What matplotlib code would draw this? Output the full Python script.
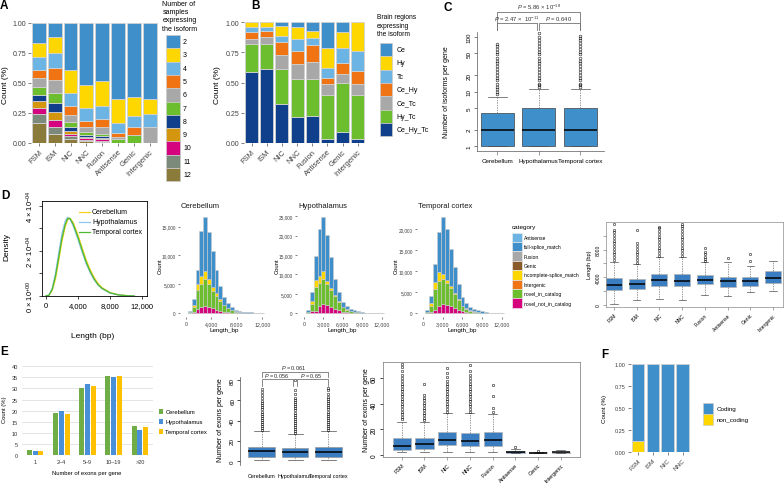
import matplotlib
matplotlib.use("Agg")
import matplotlib.pyplot as plt
import matplotlib.transforms as mtrans
from matplotlib.patches import Rectangle
from matplotlib.lines import Line2D
import numpy as np

plt.rcParams["font.family"] = ["Liberation Sans", "DejaVu Sans"]
plt.rcParams["mathtext.fontset"] = "custom"
plt.rcParams["mathtext.rm"] = "Liberation Sans"
plt.rcParams["mathtext.it"] = "Liberation Sans:italic"
plt.rcParams["axes.linewidth"] = 0.5

# ---------------- data ----------------
types = ["FSM", "ISM", "NIC", "NNC", "Fusion", "Antisense", "Genic", "Intergenic"]

# A: share of isoforms by number of samples expressing them
a_levels = ["2", "3", "4", "5", "6", "7", "8", "9", "10", "11", "12"]
a_colors = ["#3F8FCB", "#FFD700", "#6CB4E4", "#F07314", "#A8A8A8", "#6DBE2E",
            "#103F8C", "#D4960F", "#D6037E", "#7B8A7B", "#8B7B3A"]
a_n2 = [0.167, 0.114, 0.389, 0.517, 0.481, 0.633, 0.619, 0.633]
a_n3 = [0.119, 0.136, 0.194, 0.194, 0.208, 0.203, 0.159, 0.125]
a_n4 = [0.103, 0.125, 0.106, 0.103, 0.111, 0.081, 0.091, 0.111]
a_n5 = [0.072, 0.100, 0.075, 0.055, 0.069, 0.036, 0.062, 0.000]
a_n6 = [0.075, 0.108, 0.064, 0.042, 0.056, 0.014, 0.000, 0.131]
a_n7 = [0.061, 0.084, 0.041, 0.020, 0.019, 0.033, 0.069, 0.000]
a_n8 = [0.056, 0.072, 0.028, 0.016, 0.012, 0.000, 0.000, 0.000]
a_n9 = [0.058, 0.067, 0.028, 0.014, 0.011, 0.000, 0.000, 0.000]
a_n10 = [0.047, 0.063, 0.019, 0.014, 0.014, 0.000, 0.000, 0.000]
a_n11 = [0.075, 0.056, 0.023, 0.011, 0.008, 0.000, 0.000, 0.000]
a_n12 = [0.167, 0.075, 0.033, 0.014, 0.011, 0.000, 0.000, 0.000]
a_series = [a_n2, a_n3, a_n4, a_n5, a_n6, a_n7, a_n8, a_n9, a_n10, a_n11, a_n12]

# B: share by brain regions expressing the isoform
b_regions = ["Ce", "Hy", "Tc", "Ce_Hy", "Ce_Tc", "Hy_Tc", "Ce_Hy_Tc"]
b_colors = ["#3F8FCB", "#FFD700", "#6CB4E4", "#F07314", "#A8A8A8", "#6DBE2E", "#103F8C"]
b_ce = [0.000, 0.000, 0.028, 0.042, 0.075, 0.217, 0.083, 0.000]
b_hy = [0.042, 0.042, 0.083, 0.097, 0.058, 0.164, 0.133, 0.236]
b_tc = [0.036, 0.028, 0.056, 0.097, 0.056, 0.078, 0.122, 0.167]
b_ce_hy = [0.061, 0.050, 0.106, 0.111, 0.139, 0.056, 0.092, 0.111]
b_ce_tc = [0.042, 0.056, 0.111, 0.119, 0.139, 0.089, 0.069, 0.089]
b_hy_tc = [0.231, 0.208, 0.289, 0.317, 0.306, 0.364, 0.411, 0.364]
b_ce_hy_tc = [0.588, 0.616, 0.327, 0.217, 0.227, 0.032, 0.090, 0.033]
b_series = [b_ce, b_hy, b_tc, b_ce_hy, b_ce_tc, b_hy_tc, b_ce_hy_tc]

# C: isoforms per gene
tissues = ["Cerebellum", "Hypothalamus", "Temporal cortex"]
c_q1 = [1, 1, 1]
c_med = [2, 2, 2]
c_q3 = [4, 5, 5]
c_lo = [1, 1, 1]
c_hi = [8, 11, 11]
c_fl_ce = [9, 10, 11, 12, 14, 16, 18, 20, 23, 26, 29, 33, 37, 42, 48, 54, 61, 69, 75]
c_fl_hy = [12, 13, 14, 16, 18, 20, 23, 26, 29, 33, 37, 42, 48, 54, 61, 69, 78, 88, 100, 118]
c_fl_tc = [12, 13, 14, 16, 18, 20, 23, 26, 29, 33, 37, 42, 48, 54, 61, 69, 78, 88, 98, 105]

# D: density of transcript length (values in 1e-4)
d_len = [0, 400, 800, 1200, 1600, 2000, 2400, 2700, 3000, 3400, 4000, 4500, 5000,
         5500, 6000, 6500, 7000, 8000, 9000, 10000, 11000]
d_dens_ce = [0, 0.03, 0.25, 0.75, 1.55, 2.40, 3.05, 3.36, 3.44, 3.25, 2.70, 2.15, 1.62,
             1.18, 0.83, 0.56, 0.37, 0.15, 0.06, 0.02, 0]
d_dens_hy = [0, 0.05, 0.35, 1.00, 1.90, 2.75, 3.30, 3.48, 3.40, 3.10, 2.50, 1.95, 1.45,
             1.05, 0.72, 0.48, 0.32, 0.13, 0.05, 0.015, 0]
d_dens_tc = [0, 0.04, 0.30, 0.88, 1.70, 2.55, 3.15, 3.42, 3.43, 3.18, 2.60, 2.05, 1.52,
             1.10, 0.76, 0.50, 0.34, 0.14, 0.05, 0.015, 0]
dens_colors = ["#F5D31A", "#8EC5F0", "#4DB82F"]

# D: stacked length histograms per tissue
h_categories = ["Antisense", "full-splice_match", "Fusion", "Genic",
                "incomplete-splice_match", "Intergenic", "novel_in_catalog", "novel_not_in_catalog"]
h_colors = ["#6CB4E4", "#3F8FCB", "#A8A8A8", "#8B5A2B", "#FFD700", "#F07314", "#6DBE2E", "#D6037E"]
h_bin_left = [300, 900, 1500, 2100, 2700, 3300, 3900, 4500, 5100, 5700,
              6300, 6900, 7500, 8100, 8700, 9300, 9900, 10500, 11100, 11700]
h_width = 600
cb_fsm = [200, 1040, 2480, 7890, 9200, 8050, 6335, 4035, 2250, 1265, 800, 480, 300, 220, 150, 110, 80, 60, 40, 30]
cb_ism = [0, 400, 980, 1330, 1440, 870, 580, 460, 230, 115, 60, 40, 0, 0, 0, 0, 0, 0, 0, 0]
cb_nic = [200, 750, 3350, 4040, 4730, 4040, 3060, 2420, 1730, 1100, 700, 420, 230, 130, 80, 60, 40, 30, 20, 10]
cb_nnc = [0, 290, 750, 1040, 1210, 1040, 865, 635, 460, 290, 170, 100, 50, 0, 0, 0, 0, 0, 0, 0]
cb_fus = [0, 0, 0, 0, 0, 0, 0, 0, 0, 0, 30, 40, 40, 40, 40, 40, 30, 30, 30, 30]
hy_fsm = [400, 2150, 6270, 12030, 13750, 11760, 7990, 4050, 2310, 1180, 720, 480, 330, 220, 160, 90, 60, 50, 30, 20]
hy_ism = [0, 860, 1890, 1900, 2150, 800, 600, 400, 200, 100, 50, 0, 0, 0, 0, 0, 0, 0, 0, 0]
hy_nic = [300, 1720, 6010, 6000, 6440, 5410, 4290, 3200, 2100, 1100, 700, 420, 280, 170, 100, 60, 40, 30, 20, 10]
hy_nnc = [150, 690, 690, 1800, 2400, 2150, 1720, 1200, 800, 450, 250, 130, 80, 40, 0, 0, 0, 0, 0, 0]
hy_fus = [0, 0, 0, 0, 0, 0, 0, 0, 0, 0, 40, 50, 50, 50, 50, 50, 40, 40, 40, 40]
tc_fsm = [400, 1810, 4370, 9530, 13500, 12080, 8720, 6050, 3680, 1960, 1240, 780, 530, 360, 260, 160, 100, 65, 40, 25]
tc_ism = [0, 560, 1590, 1980, 1190, 800, 600, 400, 200, 100, 60, 0, 0, 0, 0, 0, 0, 0, 0, 0]
tc_nic = [300, 1590, 5000, 5950, 5950, 5200, 4300, 3300, 2300, 1300, 800, 500, 330, 220, 140, 90, 50, 35, 20, 15]
tc_nnc = [90, 240, 790, 1830, 2220, 2000, 1700, 1200, 800, 450, 280, 150, 90, 50, 0, 0, 0, 0, 0, 0]
tc_fus = [0, 0, 0, 0, 0, 0, 0, 0, 0, 0, 40, 50, 50, 50, 50, 50, 40, 40, 40, 40]

# D right: length by structural category
dl_q1 = [2130, 2280, 2670, 2670, 2960, 2520, 2760, 3150]
dl_med = [2910, 2960, 3540, 3440, 3640, 3390, 3390, 3830]
dl_q3 = [3880, 3730, 4460, 4410, 4320, 3980, 4020, 4950]
dl_lo = [50, 680, 820, 680, 1400, 1310, 1790, 1940]
dl_hi = [6250, 5870, 6880, 6880, 6160, 6250, 5670, 6300]
dl_fliers = [
    [6500, 6900, 7300, 7700, 8100, 8500, 8900, 9300, 9700, 10100, 10500, 10900, 11730],
    [6100, 6500, 6900, 7300, 7700, 8100, 8600, 9000, 10860],
    [7100, 7500, 7900, 8300, 8700, 9100, 9500, 9900, 10300, 10700, 11100, 11350],
    [7100, 7500, 7900, 8300, 8700, 9100, 9500, 9900, 10300, 10700, 11100, 11500, 11730],
    [6400, 6700, 7000, 7300, 7700, 8190],
    [6840],
    [6400, 7370],
    [],
]

# E left: exons per gene distribution (%)
e_groups = ["1", "2\u20134", "5\u20139", "10\u201319", ">20"]
e_ce = [2.1, 18.9, 30.2, 35.5, 12.9]
e_hy = [1.8, 19.7, 31.9, 35.2, 11.1]
e_tc = [1.65, 18.6, 31.0, 35.6, 12.6]
e_colors = ["#70AD47", "#4A90D9", "#FFC000"]

# E middle: exons per gene by tissue
em_q1 = [4.5, 4.5, 4.5]
em_med = [10.0, 8.7, 8.7]
em_q3 = [14.5, 13.5, 14.5]
em_lo = [1.3, 1.3, 1.3]
em_hi = [29.7, 27.0, 29.7]
em_fl_ce = [31, 33, 35, 37, 39, 41, 43, 45, 47, 49, 51, 53, 55, 57, 59, 62, 65, 68, 71.6]
em_fl_hy = [28, 30, 32, 34, 36, 38, 40, 42, 44, 46, 48, 50, 52, 54, 56, 58, 60, 62, 66, 70, 80]
em_fl_tc = [31, 33, 35, 37, 39, 41, 43, 45, 47, 49, 51, 53, 55, 57, 59, 61, 63, 66, 70, 72]

# E right: exons per gene by structural category
er_q1 = [3.7, 4.5, 7.9, 7.1, 6.6, 1.3, 1.0, 1.3]
er_med = [7.1, 8.4, 11.8, 11.0, 11.8, 1.9, 1.0, 2.0]
er_q3 = [13.1, 13.1, 17.6, 16.8, 17.6, 3.1, 2.0, 2.5]
er_lo = [1.9, 1.9, 1.9, 1.9, 1.9, 1.0, 1.0, 1.0]
er_hi = [26.0, 25.7, 32.6, 32.6, 32.0, 4.5, 2.0, 4.0]
er_fliers = [
    [28, 30, 32, 34, 36, 38, 40, 42, 44, 46, 48, 50, 52, 54, 56, 58, 60, 63, 66, 69, 71],
    [27, 29, 31, 33, 35, 37, 39, 41, 43, 45, 47, 55.7],
    [34, 36, 38, 40, 42, 44, 46, 48, 50, 52, 54, 56, 58, 61, 64, 68],
    [34, 36, 38, 40, 42, 44, 46, 48, 50, 52, 54, 56, 58, 60, 63, 66, 70.6],
    [34, 36.5, 46, 55],
    [5.8],
    [3],
    [],
]

# F: coding potential
f_types = ["FSM", "ISM", "NIC", "NNC"]
f_noncoding = [0.125, 0.0, 0.0, 0.0]
f_coding = [0.875, 1.0, 1.0, 1.0]
f_labels = ["Coding", "non_coding"]
f_colors = ["#3F8FCB", "#FFD700"]

# ---------------- figure helpers ----------------
W, H = 784, 485
fig = plt.figure(figsize=(W / 100, H / 100), dpi=100)
PX = mtrans.Affine2D().scale(1 / W, -1 / H).translate(0, 1) + fig.transFigure


def add_ax(x0, y0, x1, y1):
    return fig.add_axes([x0 / W, 1 - y1 / H, (x1 - x0) / W, (y1 - y0) / H])


def text(x, y, s, **kw):
    kw.setdefault("ha", "center")
    kw.setdefault("va", "center")
    fig.text(x, y, s, transform=PX, **kw)


def swatch(x, y, w, h, color, edge="0.8"):
    fig.add_artist(Rectangle((x, y), w, h, transform=PX, facecolor=color,
                             edgecolor=edge, linewidth=0.5))


def gg(ax, size):
    for sp in ax.spines.values():
        sp.set_visible(False)
    ax.tick_params(length=2, width=0.5, color="0.3", labelsize=size,
                   labelcolor="0.25", pad=1.5)


def box_stats(q1, med, q3, lo, hi, fliers):
    return [dict(q1=a, med=b, q3=c, whislo=d, whishi=e, fliers=f)
            for a, b, c, d, e, f in zip(q1, med, q3, lo, hi, fliers)]


def draw_box(ax, stats, width, cap, fill, edge, msize=1.8):
    ax.bxp(stats, positions=list(range(1, len(stats) + 1)), widths=width, capwidths=cap,
           patch_artist=True, manage_ticks=False,
           boxprops=dict(facecolor=fill, edgecolor=edge, linewidth=0.5),
           medianprops=dict(color="black", linewidth=1.1),
           whiskerprops=dict(color="0.45", linewidth=0.5, linestyle=(0, (2, 1.5))),
           capprops=dict(color="0.3", linewidth=0.5),
           flierprops=dict(marker="o", markersize=msize, markerfacecolor="none",
                           markeredgecolor="black", markeredgewidth=0.35))


def stacked(ax, x, series, colors, width, edge="0.82", lw=0.6):
    base = np.zeros(len(x))
    for vals, col in zip(series, colors):
        vals = np.array(vals, dtype=float)
        edges = [edge if v > 0 else "none" for v in vals]
        ax.bar(x, vals, width, bottom=base, color=col, edgecolor=edges, linewidth=lw,
               align="center" if width < 5 else "edge")
        base = base + vals


# ---------------- A ----------------
ax = add_ax(31, 24, 157.5, 144)
xa = np.arange(len(types))
stacked(ax, xa, a_series[::-1], a_colors[::-1], 0.875)
ax.set_xlim(-0.5, 7.5)
ax.set_ylim(0, 1)
gg(ax, 5)
ax.set_yticks([0, 0.25, 0.5, 0.75, 1.0], ["0.00", "0.25", "0.50", "0.75", "1.00"])
ax.set_xticks(xa, types, rotation=45, ha="right", rotation_mode="anchor", fontsize=5.5)
text(5.5, 85, "Count (%)", rotation=90, fontsize=6)
text(162.5, 1, "Number of\nsamples\nexpressing\nthe isoform", ha="left", va="top",
     fontsize=5, linespacing=1.25)
for i, (lab, col) in enumerate(zip(a_levels, a_colors)):
    swatch(165.7, 36 + 13.3 * i, 14, 13.3, col)
    text(183, 42.6 + 13.3 * i, lab, ha="left", fontsize=5)

# ---------------- B ----------------
ax = add_ax(244, 23.3, 365.3, 144)
stacked(ax, xa, b_series[::-1], b_colors[::-1], 0.85)
ax.set_xlim(-0.5, 7.5)
ax.set_ylim(0, 1)
gg(ax, 5)
ax.set_yticks([0, 0.25, 0.5, 0.75, 1.0], ["0.00", "0.25", "0.50", "0.75", "1.00"])
ax.set_xticks(xa, types, rotation=45, ha="right", rotation_mode="anchor", fontsize=5.5)
text(218, 85, "Count (%)", rotation=90, fontsize=6)
text(377, 14, "Brain regions\nexpressing\nthe isoform", ha="left", va="top",
     fontsize=4.8, linespacing=1.3)
for i, (lab, col) in enumerate(zip(b_regions, b_colors)):
    swatch(380, 44 + 13.33 * i, 12.3, 13.33, col)
    text(396.7, 50.6 + 13.33 * i, lab, ha="left", fontsize=5)

# ---------------- C ----------------
ax = add_ax(476.5, 33, 604, 152)
ax.set_yscale("log")
draw_box(ax, box_stats(c_q1, c_med, c_q3, c_lo, c_hi, [c_fl_ce, c_fl_hy, c_fl_tc]),
         0.8, 0.45, "#3F8FCB", "0.25", msize=2.0)
ax.set_xlim(0.5, 3.57)
ax.set_ylim(0.81, 124)
ax.yaxis.set_minor_locator(matplotlib.ticker.NullLocator())
ax.set_yticks([1, 2, 5, 10, 20, 50, 100], ["1", "2", "5", "10", "20", "50", "100"],
              rotation=90, va="center")
ax.set_xticks([1, 2, 3], tissues)
ax.spines[["top", "right"]].set_visible(False)
ax.spines["left"].set_color("0.35")
ax.spines["bottom"].set_color("0.35")
ax.tick_params(axis="y", length=2.5, width=0.5, labelsize=4.5, pad=1, color="0.3")
ax.tick_params(axis="x", length=3, width=0.5, labelsize=4.5, pad=2, color="0.45")
text(447, 92, "Number of isoforms per gene", rotation=90, fontsize=5)
T = mtrans.blended_transform_factory(ax.transData, PX)
ax.plot([1, 1, 3, 3], [31, 13, 13, 31], transform=T, clip_on=False, color="0.45", lw=0.6)
ax.plot([1, 1, 1.95, 1.95], [31, 24, 24, 31], transform=T, clip_on=False, color="0.45", lw=0.6)
ax.plot([2, 2, 3, 3], [31, 24, 24, 31], transform=T, clip_on=False, color="0.45", lw=0.6)
text(539, 7, r"$P$ = 5.86 $\times$ 10$^{-18}$", fontsize=4.2, color="0.2")
text(517, 19, r"$P$ = 2.47 $\times$  10$^{-11}$", fontsize=4.2, color="0.2")
text(559, 19, r"$P$ = 0.640", fontsize=4.2, color="0.2")

# ---------------- D density ----------------
ax = add_ax(42, 202, 147, 297)
x_len = np.array(d_len)
for dens, col, lab in zip([d_dens_ce, d_dens_hy, d_dens_tc], dens_colors, tissues):
    ax.plot(x_len, np.array(dens) * 1e-4, color=col, lw=0.9, label=lab)
ax.set_xlim(-480, 12600)
ax.set_ylim(0, 4.2e-4)
ax.set_xticks([0, 4000, 8000, 12000], ["0", "4,000", "8,000", "12,000"])
ax.set_yticks([0, 1e-4, 2e-4, 3e-4, 4e-4],
              [r"0 $\times$ 10$^{+00}$", "", r"2 $\times$ 10$^{-04}$", "", r"4 $\times$ 10$^{-04}$"],
              rotation=90, va="center")
ax.tick_params(length=2.5, width=0.5, labelsize=5.5, pad=2)
for sp in ax.spines.values():
    sp.set_linewidth(0.6)
text(6.5, 247, "Density", rotation=90, fontsize=6)
text(93, 337, "Length (bp)", fontsize=6)
for i, (lab, col) in enumerate(zip(tissues, dens_colors)):
    fig.add_artist(Line2D([79, 90], [213 + 10 * i, 213 + 10 * i], transform=PX, color=col, lw=0.9))
    text(92, 213 + 10 * i, lab, ha="left", fontsize=5)

# ---------------- D histograms ----------------
hist_specs = [
    ("Cerebellum", (180, 214, 268, 318), (-944, 12896), (-640, 17350),
     [cb_nnc, cb_nic, cb_ism, cb_fus, cb_fsm], [0, 4000, 8000, 12000],
     [0, 5000, 10000, 15000], 160, 224),
    ("Hypothalamus", (297, 214, 388, 318), (-1081, 12973), (-954, 25850),
     [hy_nnc, hy_nic, hy_ism, hy_fus, hy_fsm], [0, 3000, 6000, 9000, 12000],
     [0, 5000, 10000, 15000, 20000, 25000], 277, 342.5),
    ("Temporal cortex", (417, 214, 507, 318), (-964, 12811), (-881, 23881),
     [tc_nnc, tc_nic, tc_ism, tc_fus, tc_fsm], [0, 3000, 6000, 9000, 12000],
     [0, 5000, 10000, 15000, 20000], 396, 462),
]
part_colors = [h_colors[7], h_colors[6], h_colors[4], h_colors[2], h_colors[1]]
for title, rect, xl, yl, parts, xt, yt, ylab_x, xlab_x in hist_specs:
    ax = add_ax(*rect)
    stacked(ax, h_bin_left, parts, part_colors, h_width, edge="0.8", lw=0.4)
    ax.set_xlim(*xl)
    ax.set_ylim(*yl)
    gg(ax, 3.8)
    ax.tick_params(length=1.5)
    ax.set_xticks(xt, [f"{v:,}" for v in xt])
    ax.set_yticks(yt, [f"{v:,}" for v in yt])
    ax.tick_params(axis="y", labelsize=3.4)
    text(rect[0] + 1, 207, title, ha="left", fontsize=5.5, color="0.1")
    text(ylab_x, 266, "Count", rotation=90, fontsize=4.2)
    text(xlab_x, 330.5, "Length_bp", fontsize=4.5)

text(511.5, 228, "category", ha="left", fontsize=4.6)
for i, (lab, col) in enumerate(zip(h_categories, h_colors)):
    swatch(511.7, 233.6 + 9.4 * i, 10, 9.4, col, edge="0.9")
    text(524, 238.3 + 9.4 * i, lab, ha="left", fontsize=3.6)

# ---------------- D right: length by category ----------------
ax = add_ax(606, 222.7, 783, 308.3)
draw_box(ax, box_stats(dl_q1, dl_med, dl_q3, dl_lo, dl_hi, dl_fliers), 0.7, 0.32, "#3B7DC1", "0.7",
         msize=1.7)
ax.set_xlim(0.648, 8.44)
ax.set_ylim(-380, 12070)
ax.set_yticks([0, 2000, 4000, 6000, 8000, 10000], ["0", "", "4000", "", "8000", ""],
              rotation=90, va="center")
ax.set_xticks(range(1, 9), types, rotation=45, ha="right", rotation_mode="anchor")
ax.tick_params(length=2, width=0.4, labelsize=3.6, pad=1.5, color="0.4")
for sp in ax.spines.values():
    sp.set_color("0.55")
text(590, 265, "Length (bp)", rotation=90, fontsize=4)

# ---------------- E left ----------------
ax = add_ax(22, 367.3, 153, 456)
xe = np.arange(len(e_groups))
for off, vals, col, lab in zip([-0.22, 0, 0.22], [e_ce, e_hy, e_tc], e_colors, tissues):
    ax.bar(xe + off, vals, 0.19, color=col, label=lab)
ax.set_xlim(-0.5, 4.5)
ax.set_ylim(0, 40)
ax.set_yticks([0, 5, 10, 15, 20, 25, 30, 35, 40])
ax.set_xticks(xe, e_groups)
ax.yaxis.grid(True, color="0.85", lw=0.5)
ax.set_axisbelow(True)
for sp in ax.spines.values():
    sp.set_visible(False)
ax.tick_params(length=0, labelsize=4, labelcolor="0.2", pad=3)
text(5, 410, "Count (%)", rotation=90, fontsize=4.2)
text(87, 474, "Number of exons per gene", fontsize=4.2)
for i, (lab, col) in enumerate(zip(tissues, e_colors)):
    swatch(159, 410 + 10 * i, 4.5, 4.5, col, edge="none")
    text(165.5, 412.3 + 10 * i, lab, ha="left", fontsize=4.2)

# ---------------- E middle ----------------
ax = add_ax(240, 377.8, 345, 465.5)
draw_box(ax, box_stats(em_q1, em_med, em_q3, em_lo, em_hi, [em_fl_ce, em_fl_hy, em_fl_tc]),
         0.8, 0.45, "#3B7DC1", "0.6", msize=1.8)
ax.set_xlim(0.35, 3.5)
ax.set_ylim(-3.2, 83.2)
ax.set_yticks([0, 20, 40, 60, 80], ["0", "20", "40", "60", "80"], rotation=90, va="center")
ax.set_xticks([1, 2, 3], tissues)
ax.spines[["top", "right", "bottom"]].set_visible(False)
ax.spines["left"].set_color("0.3")
ax.tick_params(axis="y", length=2.5, width=0.5, labelsize=4.5, pad=1)
ax.tick_params(axis="x", length=0, labelsize=3.9, pad=6)
text(221, 420, "Number of exons per gene", rotation=90, fontsize=5)
T = mtrans.blended_transform_factory(ax.transData, PX)
ax.plot([1, 1, 3, 3], [378, 372.5, 372.5, 378], transform=T, clip_on=False, color="0.35", lw=0.5)
ax.plot([1, 1, 1.95, 1.95], [386.5, 379.5, 379.5, 386.5], transform=T, clip_on=False, color="0.35", lw=0.5)
ax.plot([2.05, 2.05, 3, 3], [386.5, 379.5, 379.5, 386.5], transform=T, clip_on=False, color="0.35", lw=0.5)
text(293.3, 368, r"$P$ = 0.061", fontsize=4, color="0.15")
text(277, 375.8, r"$P$ = 0.056", fontsize=4, color="0.15")
text(311, 375.8, r"$P$ = 0.65", fontsize=4, color="0.15")

# ---------------- E right ----------------
ax = add_ax(382.7, 362.7, 580, 458.3)
draw_box(ax, box_stats(er_q1, er_med, er_q3, er_lo, er_hi, er_fliers), 0.8, 0.4, "#3B7DC1", "0.7",
         msize=1.8)
ax.set_xlim(0.165, 8.84)
ax.set_ylim(-2.05, 73.2)
ax.set_yticks([0, 20, 40, 60], ["0", "20", "40", "60"], rotation=90, va="center")
ax.set_xticks(range(1, 9), types, rotation=45, ha="right", rotation_mode="anchor")
ax.tick_params(axis="y", length=2.5, width=0.5, labelsize=4.8, pad=1)
ax.tick_params(axis="x", length=2, width=0.4, labelsize=4, pad=1.5, color="0.4")
for sp in ax.spines.values():
    sp.set_color("0.45")
text(367, 410, "Number of exons per gene", rotation=90, fontsize=5)

# ---------------- F ----------------
ax = add_ax(630.6, 365, 690.1, 453.3)
xf = np.arange(len(f_types))
stacked(ax, xf, [f_noncoding, f_coding], [f_colors[1], f_colors[0]], 0.85)
ax.set_xlim(-0.5, 3.5)
ax.set_ylim(0, 1)
gg(ax, 4)
ax.set_yticks([0, 0.25, 0.5, 0.75, 1.0], ["0.00", "0.25", "0.50", "0.75", "1.00"])
ax.set_xticks(xf, f_types, rotation=45, ha="right", rotation_mode="anchor", fontsize=4.6)
text(605, 409, "Count (%)", rotation=90, fontsize=4.5)
for i, (lab, col) in enumerate(zip(f_labels, f_colors)):
    swatch(702.7, 404.3 + 10.7 * i, 10, 10.7, col)
    text(716.7, 409.6 + 10.7 * i, lab, ha="left", fontsize=4.5)

# ---------------- panel letters ----------------
for letter, (lx, ly) in zip("ABCDEF", [(4, 6), (256, 6), (448, 8), (5, 196), (4, 352), (605, 355)]):
    text(lx, ly, letter, fontsize=8.5, fontweight="bold")

fig.savefig("out.png", dpi=100)
